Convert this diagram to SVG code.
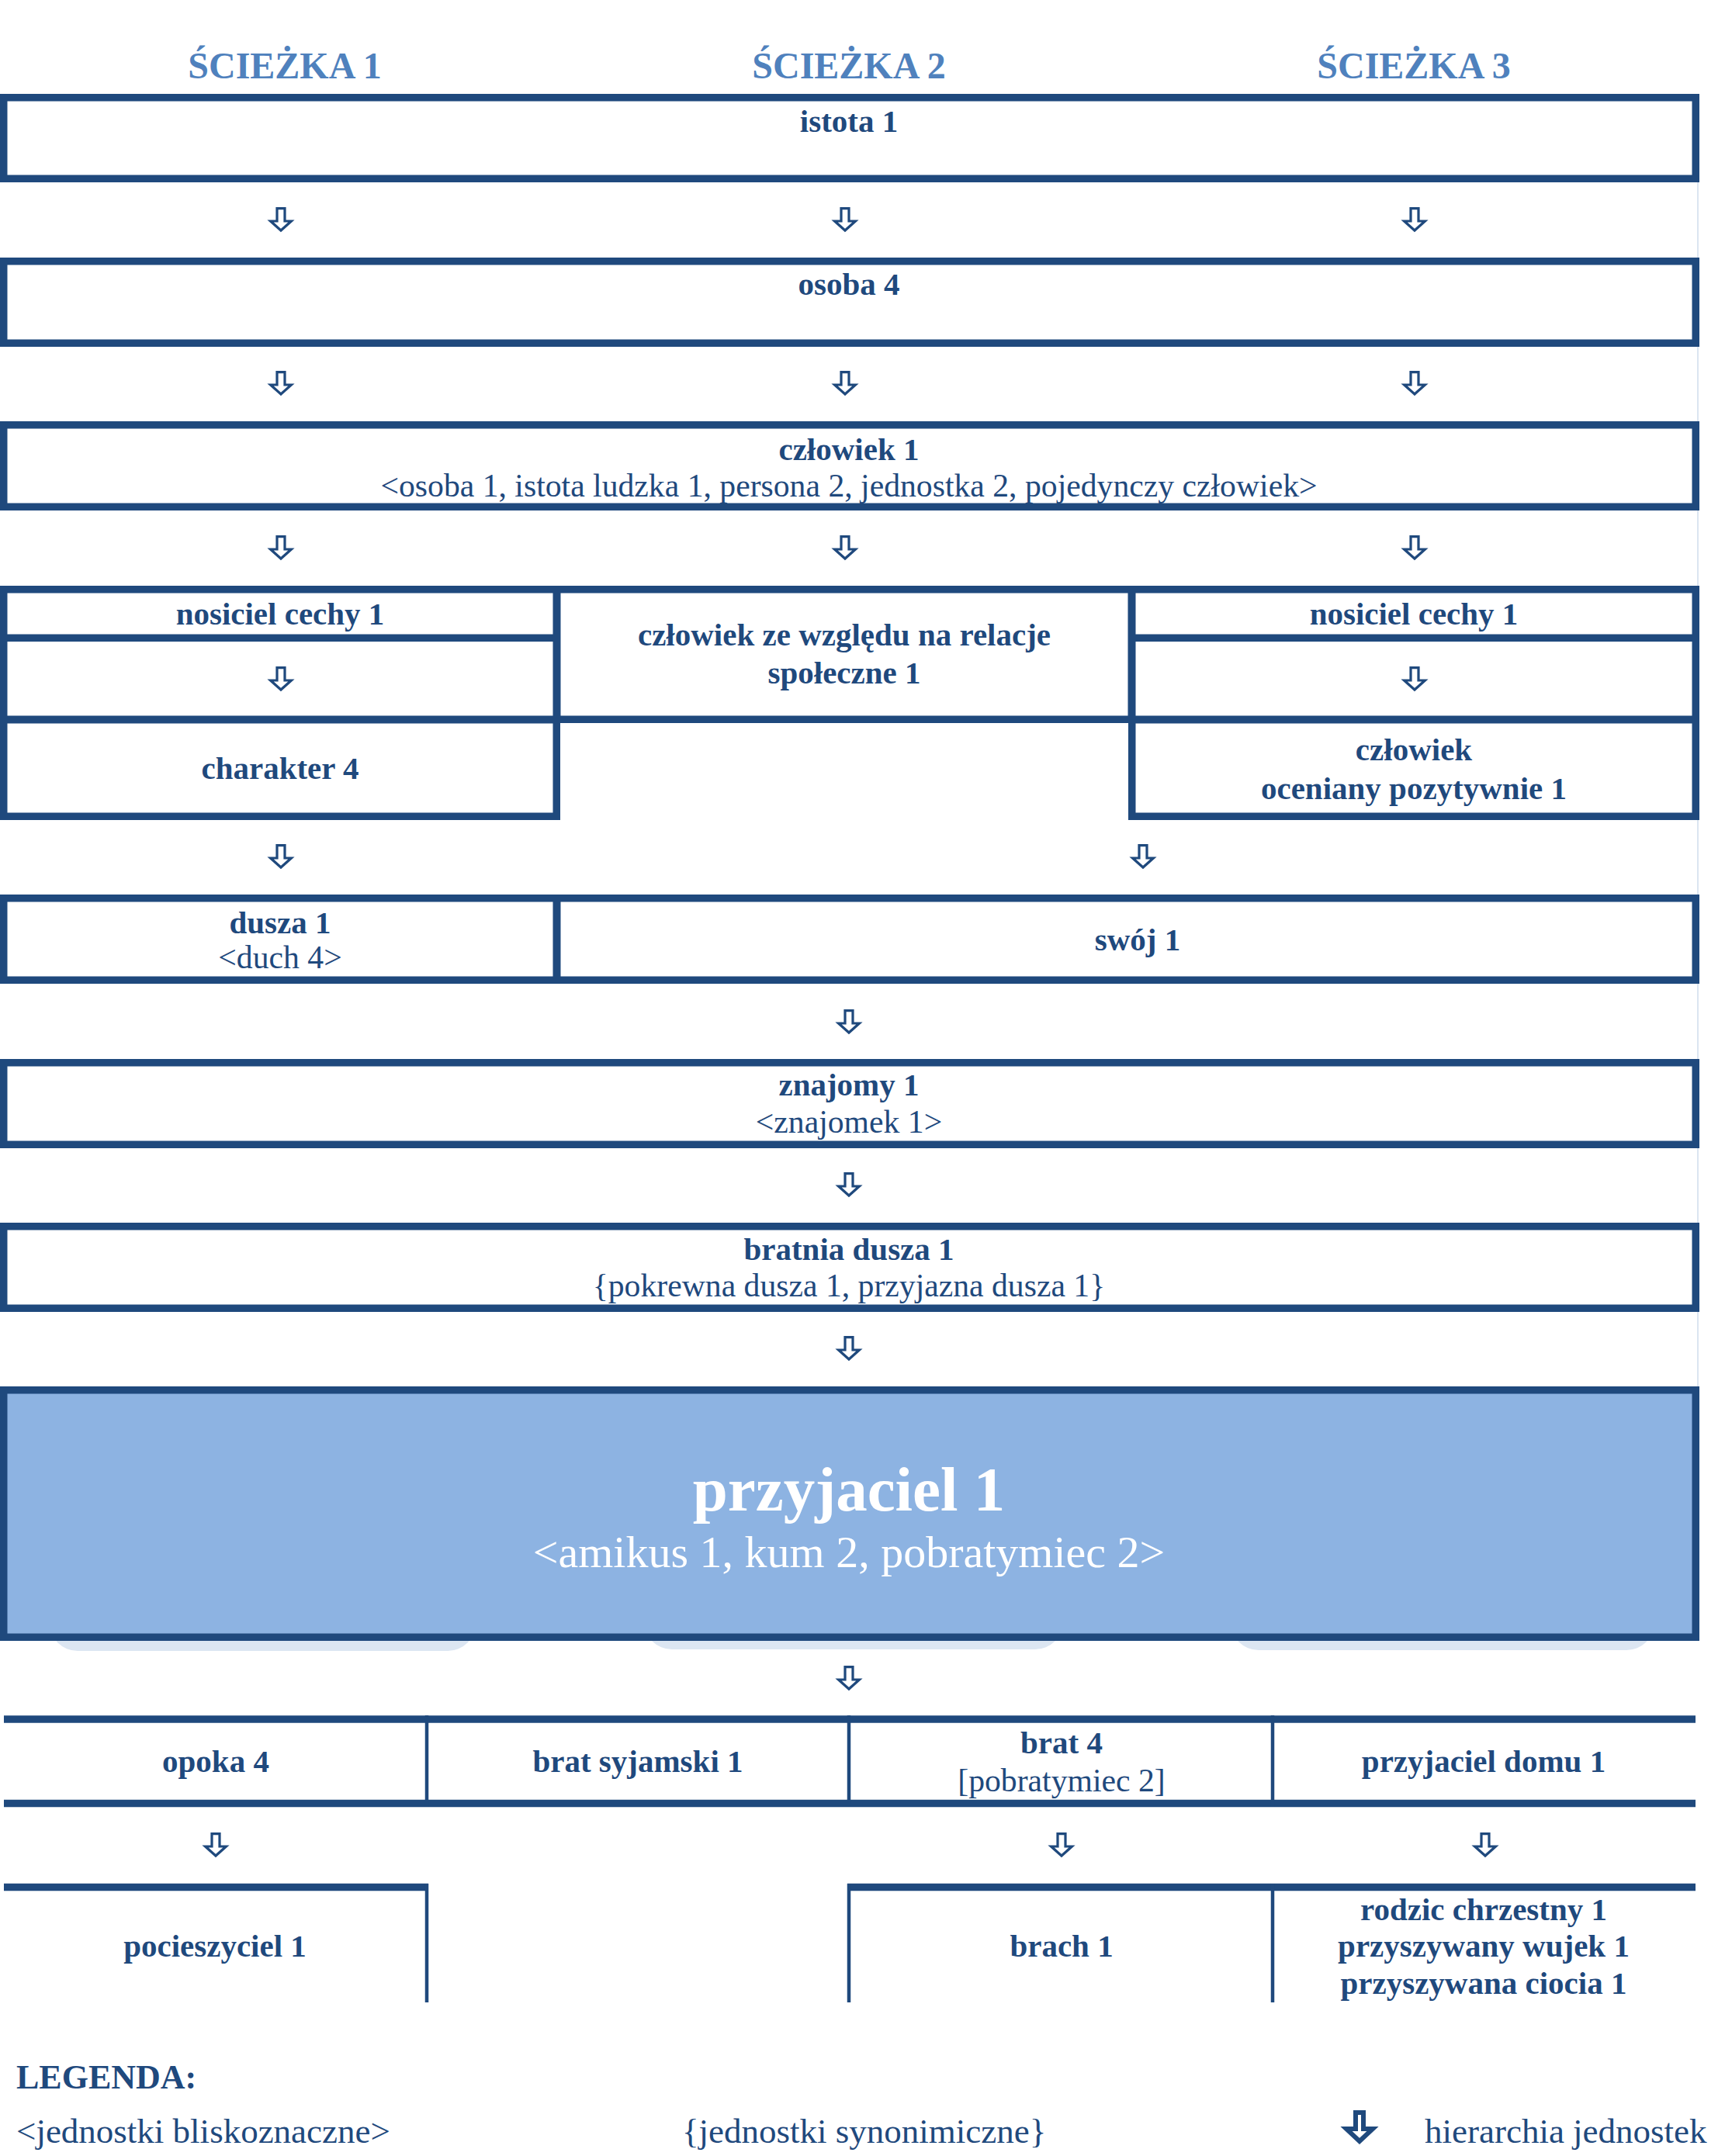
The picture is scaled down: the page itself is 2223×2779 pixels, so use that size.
<svg xmlns="http://www.w3.org/2000/svg" xmlns:xlink="http://www.w3.org/1999/xlink" width="2223" height="2779" viewBox="0 0 2223 2779">
<style>
.frame{fill:#ffffff;stroke:#1f497d;stroke-width:9.5}
.main{fill:#8db3e2;stroke:#1f497d;stroke-width:9.5}
.bar{stroke:#1f497d;stroke-width:9.5;fill:none}
.thin{stroke:#1f497d;stroke-width:4.5;fill:none}
.arr{fill:#ffffff;stroke:#1f497d;stroke-width:3.2;stroke-miterlimit:10}
.b{font-family:"Liberation Serif","Times New Roman",serif;font-weight:bold;font-size:41px;fill:#1f497d;text-anchor:middle}
.r{font-family:"Liberation Serif","Times New Roman",serif;font-size:41.7px;fill:#1f497d;text-anchor:middle}
.h{font-family:"Liberation Serif","Times New Roman",serif;font-weight:bold;font-size:48px;fill:#4f81bd;text-anchor:middle}
.lg{font-family:"Liberation Serif","Times New Roman",serif;font-size:45px;fill:#1f497d}
.shadow{fill:#dce6f2}
</style>
<defs>
<path id="arrow" class="arr" d="M-5,1.6 H5 V18 H13.4 L0,30 L-13.4,18 H-5 Z"/>
</defs>
<rect x="0" y="0" width="2223" height="2779" fill="#ffffff"/>

<g id="headers">
<text class="h" x="367" y="101">ŚCIEŻKA 1</text>
<text class="h" x="1094" y="101">ŚCIEŻKA 2</text>
<text class="h" x="1822" y="101">ŚCIEŻKA 3</text>
</g>

<line x1="2188" y1="235" x2="2188" y2="1787" stroke="#dbe5f1" stroke-width="2"/>

<g id="istota1">
<rect class="frame" x="4.75" y="125.75" width="2180.5" height="104.5"/>
<text class="b" x="1094" y="170">istota 1</text>
</g>
<g id="osoba4">
<rect class="frame" x="4.75" y="336.75" width="2180.5" height="105.5"/>
<text class="b" x="1094" y="380">osoba 4</text>
</g>
<g id="czlowiek1">
<rect class="frame" x="4.75" y="547.75" width="2180.5" height="105.5"/>
<text class="b" x="1094" y="593">człowiek 1</text>
<text class="r" x="1094" y="640">&lt;osoba 1, istota ludzka 1, persona 2, jednostka 2, pojedynczy człowiek&gt;</text>
</g>

<g id="nosiciel-l">
<rect class="frame" x="4.75" y="821.75" width="712.5" height="105.5"/>
<rect class="frame" x="4.75" y="759.75" width="712.5" height="62.5"/>
<text class="b" x="361" y="805">nosiciel cechy 1</text>
</g>
<g id="charakter4">
<rect class="frame" x="4.75" y="927.75" width="712.5" height="124.5"/>
<text class="b" x="361" y="1004">charakter 4</text>
</g>
<g id="czlowiek-relacje">
<rect class="frame" x="717.75" y="759.75" width="740.5" height="167.5"/>
<text class="b" x="1088" y="832">człowiek ze względu na relacje</text>
<text class="b" x="1088" y="881">społeczne 1</text>
</g>
<g id="nosiciel-r">
<rect class="frame" x="1458.75" y="821.75" width="726.5" height="105.5"/>
<rect class="frame" x="1458.75" y="759.75" width="726.5" height="62.5"/>
<text class="b" x="1822" y="805">nosiciel cechy 1</text>
</g>
<g id="czlowiek-oceniany">
<rect class="frame" x="1458.75" y="927.75" width="726.5" height="124.5"/>
<text class="b" x="1822" y="980">człowiek</text>
<text class="b" x="1822" y="1030">oceniany pozytywnie 1</text>
</g>

<g id="dusza1">
<rect class="frame" x="4.75" y="1157.75" width="712.5" height="105.5"/>
<text class="b" x="361" y="1203">dusza 1</text>
<text class="r" x="361" y="1248">&lt;duch 4&gt;</text>
</g>
<g id="swoj1">
<rect class="frame" x="717.75" y="1157.75" width="1467.5" height="105.5"/>
<text class="b" x="1466" y="1225">swój 1</text>
</g>
<g id="znajomy1">
<rect class="frame" x="4.75" y="1369.75" width="2180.5" height="105.5"/>
<text class="b" x="1094" y="1412">znajomy 1</text>
<text class="r" x="1094" y="1460">&lt;znajomek 1&gt;</text>
</g>
<g id="bratnia-dusza1">
<rect class="frame" x="4.75" y="1580.75" width="2180.5" height="105.5"/>
<text class="b" x="1094" y="1624">bratnia dusza 1</text>
<text class="r" x="1094" y="1671">{pokrewna dusza 1, przyjazna dusza 1}</text>
</g>

<g id="przyjaciel1">
<rect class="shadow" x="64" y="2040" width="549" height="88" rx="36"/>
<rect class="shadow" x="830" y="2040" width="540" height="86" rx="36"/>
<rect class="shadow" x="1586" y="2040" width="546" height="87" rx="36"/>
<rect class="main" x="4.75" y="1791.75" width="2180.5" height="318.5"/>
<text class="b" x="1094" y="1947" style="font-size:81px;fill:#ffffff">przyjaciel 1</text>
<text class="r" x="1094" y="2020" style="font-size:58px;fill:#ffffff">&lt;amikus 1, kum 2, pobratymiec 2&gt;</text>
</g>

<g id="bottom-row">
<line class="bar" x1="5" y1="2216" x2="2185" y2="2216"/>
<line class="bar" x1="5" y1="2324.5" x2="2185" y2="2324.5"/>
<line class="thin" x1="550" y1="2211" x2="550" y2="2329"/>
<line class="thin" x1="1094" y1="2211" x2="1094" y2="2329"/>
<line class="thin" x1="1640" y1="2211" x2="1640" y2="2329"/>
</g>
<g id="opoka4"><text class="b" x="278" y="2284">opoka 4</text></g>
<g id="brat-syjamski1"><text class="b" x="822" y="2284">brat syjamski 1</text></g>
<g id="brat4">
<text class="b" x="1368" y="2260">brat 4</text>
<text class="r" x="1368" y="2309">[pobratymiec 2]</text>
</g>
<g id="przyjaciel-domu1"><text class="b" x="1912" y="2284">przyjaciel domu 1</text></g>

<g id="last-row">
<line class="bar" x1="5" y1="2432.5" x2="552" y2="2432.5"/>
<line class="bar" x1="1092" y1="2432.5" x2="2185" y2="2432.5"/>
<line class="thin" x1="550" y1="2428" x2="550" y2="2581"/>
<line class="thin" x1="1094" y1="2428" x2="1094" y2="2581"/>
<line class="thin" x1="1640" y1="2428" x2="1640" y2="2581"/>
</g>
<g id="pocieszyciel1"><text class="b" x="277" y="2522">pocieszyciel 1</text></g>
<g id="brach1"><text class="b" x="1368" y="2522">brach 1</text></g>
<g id="rodzic-chrzestny1">
<text class="b" x="1912" y="2475">rodzic chrzestny 1</text>
<text class="b" x="1912" y="2522">przyszywany wujek 1</text>
<text class="b" x="1912" y="2570">przyszywana ciocia 1</text>
</g>

<g id="connectors">
<use xlink:href="#arrow" x="362" y="267"/>
<use xlink:href="#arrow" x="1089" y="267"/>
<use xlink:href="#arrow" x="1823" y="267"/>
<use xlink:href="#arrow" x="362" y="478"/>
<use xlink:href="#arrow" x="1089" y="478"/>
<use xlink:href="#arrow" x="1823" y="478"/>
<use xlink:href="#arrow" x="362" y="690"/>
<use xlink:href="#arrow" x="1089" y="690"/>
<use xlink:href="#arrow" x="1823" y="690"/>
<use xlink:href="#arrow" x="362" y="859"/>
<use xlink:href="#arrow" x="1823" y="859"/>
<use xlink:href="#arrow" x="362" y="1088"/>
<use xlink:href="#arrow" x="1473" y="1088"/>
<use xlink:href="#arrow" x="1094" y="1301"/>
<use xlink:href="#arrow" x="1094" y="1511"/>
<use xlink:href="#arrow" x="1094" y="1722"/>
<use xlink:href="#arrow" x="1094" y="2147"/>
<use xlink:href="#arrow" x="278" y="2362"/>
<use xlink:href="#arrow" x="1368" y="2362"/>
<use xlink:href="#arrow" x="1914" y="2362"/>
</g>

<g id="legend">
<text class="lg" x="21" y="2692" style="font-weight:bold;font-size:44px">LEGENDA:</text>
<text class="lg" x="21" y="2762">&lt;jednostki bliskoznaczne&gt;</text>
<text class="lg" x="879" y="2762">{jednostki synonimiczne}</text>
<path d="M1747,2723 H1757 V2744 H1769 L1752,2760 L1735,2744 H1747 Z" fill="#ffffff" stroke="#1f497d" stroke-width="6"/>
<text class="lg" x="1836" y="2762">hierarchia jednostek</text>
</g>
</svg>
